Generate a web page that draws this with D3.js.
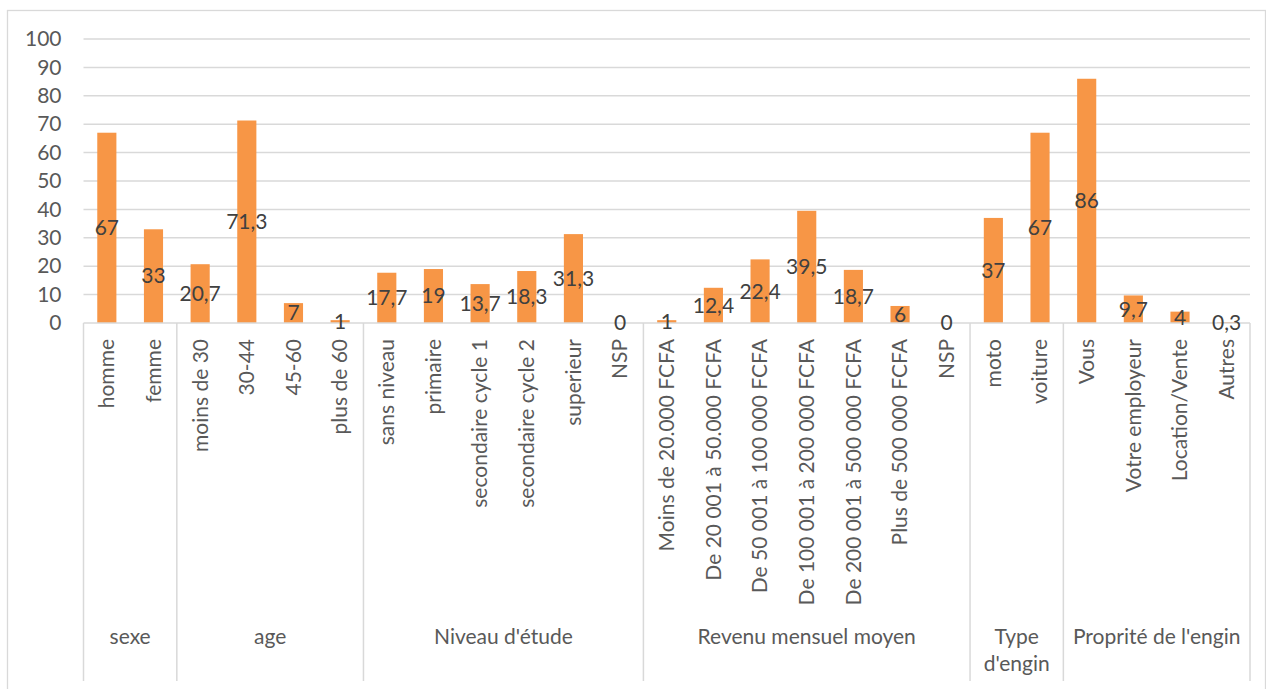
<!DOCTYPE html>
<html><head><meta charset="utf-8">
<script src="https://cdn.jsdelivr.net/npm/d3@7"></script>
<style>
body{margin:0;background:#fff;}
svg text{font-family:Lato,"Open Sans",sans-serif;}
</style></head>
<body><svg id="c" width="1266" height="689"></svg>
<script>
const groups = ["sexe","age","Niveau d'étude","Revenu mensuel moyen","Type\nd'engin","Proprité de l'engin"];
const groupSizes = [2,4,6,7,2,4];
const categories = ["homme","femme","moins de 30","30-44","45-60","plus de 60","sans niveau","primaire","secondaire cycle 1","secondaire cycle 2","superieur","NSP","Moins de 20.000 FCFA","De 20 001 à 50.000 FCFA","De 50 001 à 100 000 FCFA","De 100 001 à 200 000 FCFA","De 200 001 à 500 000 FCFA","Plus de 500 000 FCFA","NSP","moto","voiture","Vous","Votre employeur","Location/Vente","Autres"];
const values = [67,33,20.7,71.3,7,1,17.7,19,13.7,18.3,31.3,0,1,12.4,22.4,39.5,18.7,6,0,37,67,86,9.7,4,0.3];
const yTicks = [0,10,20,30,40,50,60,70,80,90,100];

const svg = d3.select("#c");
const L = 83.5, R = 1250, T = 39, B = 323, bottom = 681;
const fs = 21;
const idx = categories.map((_, i) => i);
const x = d3.scaleBand().domain(idx).range([L, R]).paddingInner(0.59).paddingOuter(0.295);
const y = d3.scaleLinear().domain([0, 100]).range([B, T]);

// outer frame
svg.append("rect").attr("x",7.5).attr("y",10.5).attr("width",1258).attr("height",700)
  .attr("fill","none").attr("stroke","#d9d9d9").attr("stroke-width",1.3);

// gridlines
svg.append("g").selectAll("line").data(yTicks.filter(d=>d>0)).join("line")
  .attr("x1",L).attr("x2",R).attr("y1",d=>y(d)).attr("y2",d=>y(d))
  .attr("stroke","#d9d9d9").attr("stroke-width",1.5);

// y axis labels
const ya = d3.axisLeft(y).tickValues(yTicks).tickSize(0).tickPadding(22);
const yg = svg.append("g").attr("transform",`translate(${L},0)`).call(ya);
yg.select(".domain").remove();
yg.selectAll("text").attr("font-size",fs).attr("fill","#595959").attr("font-family","Lato");

// bars
svg.append("g").selectAll("rect").data(values).join("rect")
  .attr("x",(d,i)=>x(i)).attr("width",x.bandwidth())
  .attr("y",d=>y(d)).attr("height",d=>B-y(d))
  .attr("fill","#F79646");

// axis line
svg.append("line").attr("x1",L).attr("x2",R).attr("y1",B).attr("y2",B)
  .attr("stroke","#d9d9d9").attr("stroke-width",1.5);

// group separators
const cw = (R-L)/categories.length;
let acc = 0;
const bounds = [0];
groupSizes.forEach(s=>{acc+=s; bounds.push(acc);});
svg.append("g").selectAll("line").data(bounds).join("line")
  .attr("x1",d=>L+d*cw).attr("x2",d=>L+d*cw).attr("y1",B).attr("y2",bottom)
  .attr("stroke","#d9d9d9").attr("stroke-width",1.5);

// data labels (centered)
svg.append("g").selectAll("text").data(values).join("text")
  .attr("x",(d,i)=>x(i)+x.bandwidth()/2).attr("y",d=>y(d/2))
  .attr("dy","0.35em").attr("text-anchor","middle")
  .attr("font-size",fs).attr("fill","#404040")
  .text(d=>String(d).replace(".",","));

// category labels rotated
svg.append("g").selectAll("text").data(categories).join("text")
  .attr("transform",(d,i)=>`translate(${x(i)+x.bandwidth()/2},339) rotate(-90)`)
  .attr("text-anchor","end").attr("dy","0.35em")
  .attr("font-size",fs).attr("fill","#595959").text(d=>d);

// group labels
const gl = svg.append("g");
groups.forEach((g,i)=>{
  const cx = L + (bounds[i]+bounds[i+1])/2*cw;
  const lines = g.split("\n");
  const t = gl.append("text").attr("x",cx).attr("y",644).attr("text-anchor","middle")
    .attr("font-size",fs).attr("fill","#595959");
  lines.forEach((ln,j)=>{
    t.append("tspan").attr("x",cx).attr("dy", j===0?0:27).text(ln);
  });
});
</script></body></html>
